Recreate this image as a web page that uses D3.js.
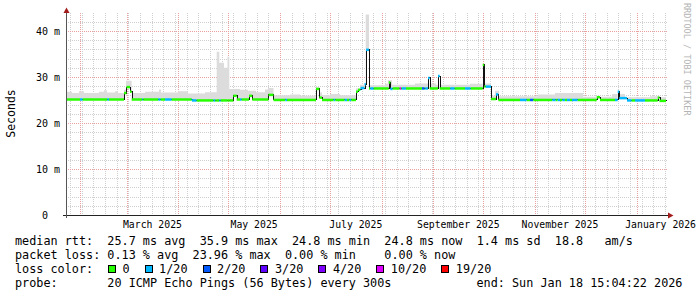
<!DOCTYPE html>
<html>
<head>
<meta charset="utf-8">
<script src="https://cdn.jsdelivr.net/npm/d3@7"></script>
<style>
  body { margin: 0; background: #fff; }
  text { font-family: "DejaVu Sans Mono", monospace; white-space: pre; }
</style>
</head>
<body>
<svg id="chart" width="697" height="297"></svg>
<script>
// graph window: 360 days ending at the probe's last update
const endTime = new Date(2026, 0, 18, 15, 4, 22);
const startTime = d3.timeDay.offset(endTime, -360);

const yTickValues = [0, 10, 20, 30, 40];
const yTickLabels = ["0  ", "10 m", "20 m", "30 m", "40 m"];
const monthLabelStarts = ["2025-03-01", "2025-05-01", "2025-07-01", "2025-09-01", "2025-11-01", "2026-01-01"];
const monthLabels = ["March 2025", "May 2025", "July 2025", "September 2025", "November 2025", "January 2026"];

// median rtt (ms), value holds until the next entry
const medianSteps = [
  ["2025-01-23 15:04", 25.1], ["2025-02-27 10:00", 26.5], ["2025-02-28 22:00", 27.8],
  ["2025-03-03 01:00", 26.8], ["2025-03-04 01:00", 25.1], ["2025-04-09 05:30", 24.9],
  ["2025-05-04 00:00", 25.9], ["2025-05-06 01:00", 25.1], ["2025-05-13 10:00", 25.9],
  ["2025-05-15 10:00", 25.1], ["2025-05-25 03:00", 26.1], ["2025-05-28 03:00", 25.0],
  ["2025-06-22 15:00", 27.4], ["2025-06-24 15:00", 25.5], ["2025-06-26 05:30", 25.0],
  ["2025-07-16 15:00", 26.8], ["2025-07-17 20:00", 27.2], ["2025-07-19 08:00", 27.6],
  ["2025-07-21 17:30", 28.4], ["2025-07-22 15:00", 35.9], ["2025-07-24 10:00", 27.5],
  ["2025-08-05 06:00", 28.8], ["2025-08-06 05:00", 27.4], ["2025-08-07 13:00", 27.5],
  ["2025-08-28 20:00", 29.8], ["2025-08-29 20:30", 27.5], ["2025-09-03 20:00", 30.2],
  ["2025-09-04 20:30", 27.5], ["2025-09-30 15:30", 32.6], ["2025-10-01 13:00", 27.9],
  ["2025-10-05 15:00", 25.2], ["2025-10-08 15:00", 26.2], ["2025-10-10 00:00", 25.0],
  ["2025-12-08 01:00", 25.6], ["2025-12-10 01:00", 25.0], ["2025-12-20 15:30", 26.8],
  ["2025-12-21 14:30", 25.4], ["2025-12-26 05:30", 24.9], ["2026-01-13 15:30", 25.5],
  ["2026-01-14 17:30", 24.8]
];

// upper edge of the smoke (ms)
const smokeSteps = [
  ["2025-01-23 15:04", 26.8], ["2025-01-27 05:30", 26.5], ["2025-01-31 10:00", 26.9],
  ["2025-02-03 10:00", 26.5], ["2025-02-12 10:00", 26.8], ["2025-02-15 10:00", 27.1],
  ["2025-02-17 05:30", 26.6], ["2025-02-22 01:00", 26.9], ["2025-02-23 20:00", 26.5],
  ["2025-02-27 10:00", 27.2], ["2025-02-28 15:00", 29.2], ["2025-03-04 01:00", 26.5],
  ["2025-03-12 01:00", 26.8], ["2025-03-20 10:00", 27.3], ["2025-03-21 15:00", 26.6],
  ["2025-03-31 20:00", 26.9], ["2025-04-06 20:00", 26.4], ["2025-04-17 01:00", 26.7],
  ["2025-04-24 01:00", 35.5], ["2025-04-25 14:30", 33.1], ["2025-04-28 10:00", 32.0],
  ["2025-04-30 12:30", 34.4], ["2025-05-01 14:30", 27.4], ["2025-05-08 01:00", 27.2],
  ["2025-05-12 20:00", 27.0], ["2025-05-17 15:00", 26.7], ["2025-05-23 01:00", 27.3],
  ["2025-05-24 20:00", 27.6], ["2025-05-28 03:00", 26.0], ["2025-06-07 01:00", 26.2],
  ["2025-06-13 01:00", 25.9], ["2025-06-22 15:00", 27.7], ["2025-06-24 15:00", 26.6],
  ["2025-06-26 05:30", 26.0], ["2025-07-01 01:00", 26.3], ["2025-07-07 01:00", 26.0],
  ["2025-07-16 15:00", 27.5], ["2025-07-19 01:00", 28.3], ["2025-07-22 11:00", 43.6],
  ["2025-07-24 10:00", 28.2], ["2025-08-03 01:00", 28.5], ["2025-08-04 20:00", 29.3],
  ["2025-08-07 05:30", 28.3], ["2025-08-21 01:00", 28.6], ["2025-09-02 15:00", 28.3],
  ["2025-09-23 01:00", 28.5], ["2025-10-01 10:00", 28.6], ["2025-10-05 15:00", 25.9],
  ["2025-10-08 01:00", 27.0], ["2025-10-10 10:00", 25.8], ["2025-11-02 20:00", 26.2],
  ["2025-11-13 01:00", 26.5], ["2025-11-29 20:00", 25.7], ["2025-12-17 05:30", 26.3],
  ["2025-12-25 01:00", 25.6], ["2026-01-09 01:00", 25.8], ["2026-01-15 01:00", 25.6]
];

// lost pings out of 20
const lossSteps = [
  ["2025-01-23 15:04", 0],
  ["2025-02-01 01:00", 1], ["2025-02-02 15:30", 0], ["2025-02-17 10:00", 1], ["2025-02-18 10:00", 0],
  ["2025-03-10 10:00", 1], ["2025-03-11 00:00", 0], ["2025-03-20 00:00", 1], ["2025-03-21 11:00", 0],
  ["2025-03-24 01:00", 1], ["2025-03-28 01:00", 0], ["2025-04-09 01:00", 1], ["2025-04-12 01:00", 0],
  ["2025-04-22 03:00", 1], ["2025-04-23 05:00", 0], ["2025-04-25 13:00", 1], ["2025-04-26 11:00", 0],
  ["2025-05-08 01:00", 1], ["2025-05-09 01:00", 0], ["2025-06-04 05:00", 1], ["2025-06-05 05:30", 0],
  ["2025-07-03 06:00", 1], ["2025-07-04 05:00", 0], ["2025-07-09 20:00", 1], ["2025-07-11 05:30", 0],
  ["2025-07-12 14:30", 1], ["2025-07-13 19:30", 0], ["2025-07-19 05:00", 1], ["2025-07-24 10:00", 0],
  ["2025-07-25 05:00", 1], ["2025-07-27 06:00", 0], ["2025-08-06 05:00", 1], ["2025-08-07 15:30", 0],
  ["2025-08-11 20:30", 10], ["2025-08-12 19:30", 0], ["2025-08-13 05:30", 1], ["2025-08-15 15:00", 0],
  ["2025-08-25 05:30", 2], ["2025-08-26 20:30", 0], ["2025-08-27 05:00", 1], ["2025-08-29 20:30", 0],
  ["2025-09-03 20:00", 1], ["2025-09-04 20:30", 0], ["2025-09-11 05:00", 1], ["2025-09-13 20:30", 0],
  ["2025-09-20 01:00", 1], ["2025-09-23 11:00", 0], ["2025-10-02 11:00", 1], ["2025-10-05 15:00", 0],
  ["2025-10-08 15:00", 1], ["2025-10-10 00:00", 0], ["2025-10-23 01:00", 1], ["2025-10-27 01:00", 0],
  ["2025-10-29 01:00", 2], ["2025-10-31 00:00", 0], ["2025-11-11 10:00", 1], ["2025-11-13 11:00", 0],
  ["2025-11-14 15:30", 1], ["2025-11-16 01:00", 0], ["2025-11-17 10:00", 1], ["2025-11-19 01:00", 0],
  ["2025-11-20 05:30", 1], ["2025-11-22 01:00", 0], ["2025-11-23 05:30", 1], ["2025-11-26 15:30", 0],
  ["2025-12-19 01:00", 1], ["2025-12-29 01:00", 0], ["2025-12-31 01:00", 1], ["2026-01-06 01:00", 0]
];

const lossLevels = [0, 1, 2, 3, 4, 10, 19];
const lossLabels = ["0", "1/20", "2/20", "3/20", "4/20", "10/20", "19/20"];
const lossColors = ["#26ff00", "#00b8ff", "#0059ff", "#5e00ff", "#7e00ff", "#dd00ff", "#ff0000"];

const legendLines = [
  "median rtt:  25.7 ms avg  35.9 ms max  24.8 ms min  24.8 ms now  1.4 ms sd  18.8   am/s",
  "packet loss: 0.13 % avg  23.96 % max  0.00 % min    0.00 % now",
  "loss color:",
  "probe:       20 ICMP Echo Pings (56 Bytes) every 300s"
];
const endLabel = "end: Sun Jan 18 15:04:22 2026";

const svg = d3.select("#chart");
const x = d3.scaleTime().domain([startTime, endTime]).range([66, 666]);
const y = d3.scaleLinear().domain([0, 43.9]).range([215, 13]);
const px = v => Math.round(v) + 0.5;

const parse = d3.timeParse("%Y-%m-%d %H:%M");
const toSteps = arr => arr.map(([t, v]) => ({ t: parse(t), v }));
const med = toSteps(medianSteps), smk = toSteps(smokeSteps), los = toSteps(lossSteps);

function valueAt(steps, t) {
  let v = steps[0].v;
  for (const s of steps) {
    if (s.t <= t) v = s.v; else break;
  }
  return v;
}

// split the window wherever any series changes
const cuts = Array.from(new Set([...med, ...smk, ...los].map(s => +s.t)))
  .sort((a, b) => a - b).map(t => new Date(t));
const intervals = cuts.map((t, i) => ({
  t0: t,
  t1: cuts[i + 1] || endTime,
  median: valueAt(med, t),
  top: valueAt(smk, t),
  loss: valueAt(los, t)
}));

// grid
const grid = svg.append("g").attr("shape-rendering", "crispEdges").attr("stroke-dasharray", "1,1");
const months = d3.timeMonth.range(d3.timeMonth.ceil(startTime), endTime);
const weeks = d3.timeSunday.range(startTime, endTime).filter(w => w.getDate() !== 1);

grid.selectAll(".hmin").data(y.ticks(20).filter(v => v % 10 !== 0)).enter().append("line")
  .attr("x1", 66).attr("x2", 667).attr("y1", d => px(y(d))).attr("y2", d => px(y(d)))
  .attr("stroke", "#cfcfcf");
grid.selectAll(".vmin").data(weeks).enter().append("line")
  .attr("x1", d => px(x(d))).attr("x2", d => px(x(d))).attr("y1", 13).attr("y2", 215)
  .attr("stroke", "#cfcfcf");
grid.selectAll(".hmaj").data(yTickValues.filter(v => v > 0)).enter().append("line")
  .attr("x1", 66).attr("x2", 667).attr("y1", d => px(y(d))).attr("y2", d => px(y(d)))
  .attr("stroke", "#e8a0a0");
grid.selectAll(".vmaj").data(months).enter().append("line")
  .attr("x1", d => px(x(d))).attr("x2", d => px(x(d))).attr("y1", 13).attr("y2", 215)
  .attr("stroke", "#e8a0a0");

// smoke
const smokePts = intervals.concat([{ ...intervals[intervals.length - 1], t0: endTime }]);
svg.append("path")
  .datum(smokePts)
  .attr("fill", "#dcdcdc")
  .attr("d", d3.area().curve(d3.curveStepAfter)
    .x(d => x(d.t0))
    .y0(d => y(d.median))
    .y1(d => y(Math.max(d.top, d.median))));

// median, thin dark line under the loss coloured segments
const medPts = med.concat([{ t: endTime, v: med[med.length - 1].v }]);
svg.append("path")
  .datum(medPts)
  .attr("fill", "none")
  .attr("stroke", "#111")
  .attr("stroke-width", 1)
  .attr("shape-rendering", "crispEdges")
  .attr("d", d3.line().curve(d3.curveStepAfter).x(d => Math.round(x(d.t)) + 0.5).y(d => y(d.v)));

const lossColor = d3.scaleOrdinal().domain(lossLevels).range(lossColors);
svg.append("g").selectAll("line").data(intervals).enter().append("line")
  .attr("x1", d => x(d.t0)).attr("x2", d => x(d.t1))
  .attr("y1", d => y(d.median)).attr("y2", d => y(d.median))
  .attr("stroke", d => lossColor(d.loss))
  .attr("stroke-width", 2.5);

// axes
const axis = svg.append("g").attr("shape-rendering", "crispEdges");
axis.append("line").attr("x1", 63).attr("x2", 669).attr("y1", 215.5).attr("y2", 215.5).attr("stroke", "#222");
axis.append("line").attr("x1", 66.5).attr("x2", 66.5).attr("y1", 218).attr("y2", 12).attr("stroke", "#555");
svg.append("path").attr("d", "M668,212.5L673.5,215.5L668,218.5Z").attr("fill", "#a31c1c");
svg.append("path").attr("d", "M63.5,13L66.5,7.5L69.5,13Z").attr("fill", "#a31c1c");

svg.selectAll(".ylab").data(yTickValues).enter().append("text")
  .attr("x", 60).attr("y", d => y(d) + 3.6)
  .attr("text-anchor", "end").attr("font-size", "10px").attr("fill", "#000")
  .text((d, i) => yTickLabels[i]);

// month labels sit at the middle of their month, kept inside the canvas
svg.selectAll(".xlab").data(monthLabelStarts).enter().append("text")
  .attr("y", 228)
  .attr("text-anchor", "middle").attr("font-size", "9.8px").attr("fill", "#000")
  .text((d, i) => monthLabels[i])
  .attr("x", function (d) {
    const m0 = d3.timeParse("%Y-%m-%d")(d);
    const mid = (x(m0) + x(d3.timeMonth.offset(m0, 1))) / 2;
    const half = this.getComputedTextLength() / 2;
    return Math.min(mid, 696 - half);
  });

svg.append("text")
  .attr("transform", "translate(15,113.5) rotate(-90)")
  .attr("text-anchor", "middle").attr("font-size", "11.5px").attr("fill", "#000")
  .text("Seconds");

svg.append("text")
  .attr("transform", "translate(684,3) rotate(90)")
  .attr("font-size", "8.5px").attr("fill", "#b4b4b4")
  .text("RRDTOOL / TOBI OETIKER");

// legend
const legend = svg.append("g").attr("font-size", "11.8px").attr("fill", "#000");
legendLines.forEach((line, i) => {
  legend.append("text").attr("x", 15).attr("y", 245 + i * 14).text(line);
});
legend.append("text").attr("x", 476.5).attr("y", 287).text(endLabel);

let bx = 108;
lossLabels.forEach((lab, i) => {
  legend.append("rect")
    .attr("x", bx + 0.5).attr("y", 265.5).attr("width", 7).attr("height", 7)
    .attr("fill", lossColors[i]).attr("stroke", "#000").attr("shape-rendering", "crispEdges");
  const t = legend.append("text").attr("x", bx + 14.5).attr("y", 273).text(lab);
  bx = bx + 14.5 + t.node().getComputedTextLength() + 15;
});
</script>
</body>
</html>
